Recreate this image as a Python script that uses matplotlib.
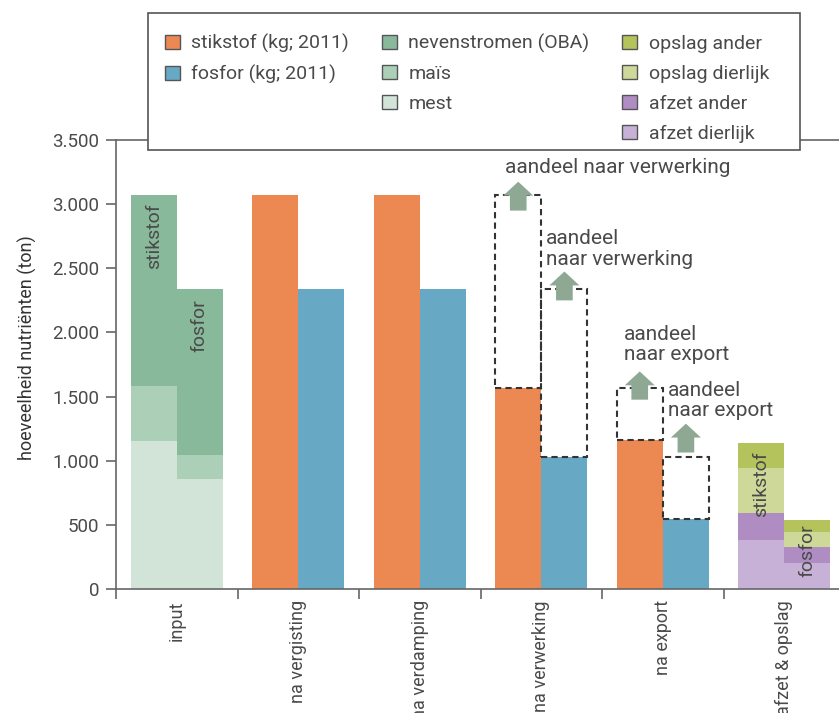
import matplotlib
matplotlib.use('Agg')
import matplotlib.pyplot as plt
from matplotlib.patches import Patch, Rectangle
from matplotlib.ticker import FuncFormatter

# groups on the x axis
groups = ['input', 'na vergisting', 'na verdamping', 'na verwerking', 'na export', 'afzet & opslag']

# input (stikstof, fosfor) split by source
input_mest = [1150, 860]
input_mais = [430, 185]
input_neven = [1490, 1290]

# remaining after each step: na vergisting, na verdamping, na verwerking, na export
stikstof = [3070, 3070, 1566, 1159]
fosfor = [2335, 2335, 1029, 547]

# afzet & opslag (stikstof, fosfor)
afzet_dierlijk = [384, 205]
afzet_ander = [207, 122]
opslag_dierlijk = [350, 116]
opslag_ander = [195, 94]

c_n = '#EC8852'
c_p = '#67A8C5'
c_neven = '#88B99B'
c_mais = '#ABCFB7'
c_mest = '#D2E4D8'
c_opslag_a = '#B4C35C'
c_opslag_d = '#CED899'
c_afzet_a = '#AF8DC3'
c_afzet_d = '#C7B1D7'
c_arrow = '#8FA894'
c_text = '#4a4a4a'
c_axis = '#666666'

plt.rcParams['font.family'] = ['Roboto', 'DejaVu Sans']
plt.rcParams['font.size'] = 12

fig = plt.figure(figsize=(8.39, 7.13), dpi=100)
ax = fig.add_axes([0.1383, 0.1739, 0.8617, 0.6297])

w = 0.38
xn = [i + 0.31 for i in range(len(groups))]
xp = [i + 0.69 for i in range(len(groups))]

# input, stacked by source
b0 = [0, 0]
ax.bar([xn[0], xp[0]], input_mest, w, bottom=b0, color=c_mest, lw=0)
b1 = [a + b for a, b in zip(b0, input_mest)]
ax.bar([xn[0], xp[0]], input_mais, w, bottom=b1, color=c_mais, lw=0)
b2 = [a + b for a, b in zip(b1, input_mais)]
ax.bar([xn[0], xp[0]], input_neven, w, bottom=b2, color=c_neven, lw=0)

# steps
ax.bar(xn[1:5], stikstof, w, color=c_n, lw=0)
ax.bar(xp[1:5], fosfor, w, color=c_p, lw=0)

# dashed boxes: part that left in verwerking / export
dash = dict(fill=False, edgecolor='#333333', linewidth=1.5, linestyle=(0, (3, 2)))
for k in (2, 3):
    ax.bar(xn[k + 1], stikstof[k - 1] - stikstof[k], w, bottom=stikstof[k], **dash)
    ax.bar(xp[k + 1], fosfor[k - 1] - fosfor[k], w, bottom=fosfor[k], **dash)

# afzet & opslag stacked
xs = [xn[5], xp[5]]
bot = [0, 0]
for vals, col in [(afzet_dierlijk, c_afzet_d), (afzet_ander, c_afzet_a),
                  (opslag_dierlijk, c_opslag_d), (opslag_ander, c_opslag_a)]:
    ax.bar(xs, vals, w, bottom=bot, color=col, lw=0)
    bot = [a + b for a, b in zip(bot, vals)]

# arrows
arrow_style = 'simple,head_length=10,head_width=21.6,tail_width=12'
arrows = [(xn[3], stikstof[1], 105, -120), (xp[3], fosfor[1], 140, -85),
          (xn[4], stikstof[2], 130, -90), (xp[4], fosfor[2], 260, 35)]
for x, top, up, down in arrows:
    ax.annotate('', xy=(x, top + up), xytext=(x, top + down),
                arrowprops=dict(arrowstyle=arrow_style, mutation_scale=1,
                                color=c_arrow, lw=0, shrinkA=0, shrinkB=0))

ann = dict(color=c_text, va='center', ha='left', fontsize=15, linespacing=1.1)
ax.text(3.20, 3285, 'aandeel naar verwerking', **ann)
ax.text(3.54, 2650, 'aandeel\nnaar verwerking', **ann)
ax.text(4.18, 1906, 'aandeel\nnaar export', **ann)
ax.text(4.54, 1470, 'aandeel\nnaar export', **ann)

# labels inside bars
inbar = dict(rotation=90, ha='center', va='top', color=c_text, fontsize=14)
ax.text(xn[0], 3010, 'stikstof', **inbar)
ax.text(xp[0], 2255, 'fosfor', **inbar)
ax.text(xn[5], 1072, 'stikstof', **inbar)
ax.text(xp[5], 505, 'fosfor', **inbar)

# axes
ax.set_xlim(0, 5.95)
ax.set_ylim(0, 3500)
ax.set_yticks(range(0, 3501, 500))
ax.yaxis.set_major_formatter(FuncFormatter(lambda v, p: f'{v:,.0f}'.replace(',', '.')))
ax.set_xticks(range(0, 6))
ax.set_xticklabels([])
ax.set_xticks([i + 0.5 for i in range(len(groups))], minor=True)
ax.set_xticklabels(groups, minor=True, rotation=90, va='top', ha='center', fontsize=13)
ax.tick_params(axis='x', which='minor', length=0, pad=8, colors=c_text)
ax.tick_params(axis='x', which='major', length=7, width=1.2, color=c_axis)
ax.tick_params(axis='y', length=7, width=1.2, color=c_axis, labelcolor=c_text,
               pad=5, labelsize=13.5)
ax.set_ylabel('hoeveelheid nutriënten (ton)', color='#333333', fontsize=13)
ax.yaxis.set_label_coords(-0.109, 0.537)
ax.spines['right'].set_visible(False)
for s in ('left', 'bottom', 'top'):
    ax.spines[s].set_color(c_axis)
    ax.spines[s].set_linewidth(1.2)

# legend box (covers the top spine) and entries
fig.patches.append(Rectangle((148 / 839, 1 - 150 / 713), 652 / 839, 137 / 713,
                             transform=fig.transFigure, facecolor='white',
                             edgecolor='#555555', linewidth=1.2, zorder=2))
blank = Patch(visible=False)
handles = [Patch(facecolor=c_n, edgecolor='#555555'),
           Patch(facecolor=c_p, edgecolor='#555555'), blank, blank,
           Patch(facecolor=c_neven, edgecolor='#555555'),
           Patch(facecolor=c_mais, edgecolor='#555555'),
           Patch(facecolor=c_mest, edgecolor='#555555'), blank,
           Patch(facecolor=c_opslag_a, edgecolor='#555555'),
           Patch(facecolor=c_opslag_d, edgecolor='#555555'),
           Patch(facecolor=c_afzet_a, edgecolor='#555555'),
           Patch(facecolor=c_afzet_d, edgecolor='#555555')]
labels = ['stikstof (kg; 2011)', 'fosfor (kg; 2011)', '', '',
          'nevenstromen (OBA)', 'maïs', 'mest', '',
          'opslag ander', 'opslag dierlijk', 'afzet ander', 'afzet dierlijk']
leg = fig.legend(handles, labels, ncol=3, loc='upper left',
                 bbox_to_anchor=(165 / 839, 1 - 34 / 713), frameon=False,
                 handlelength=0.75, handleheight=0.75, handletextpad=0.6,
                 labelspacing=0.61, borderpad=0, borderaxespad=0,
                 columnspacing=1.7, labelcolor=c_text, fontsize=14)
leg.set_zorder(5)

fig.savefig('out.png', dpi=100)
